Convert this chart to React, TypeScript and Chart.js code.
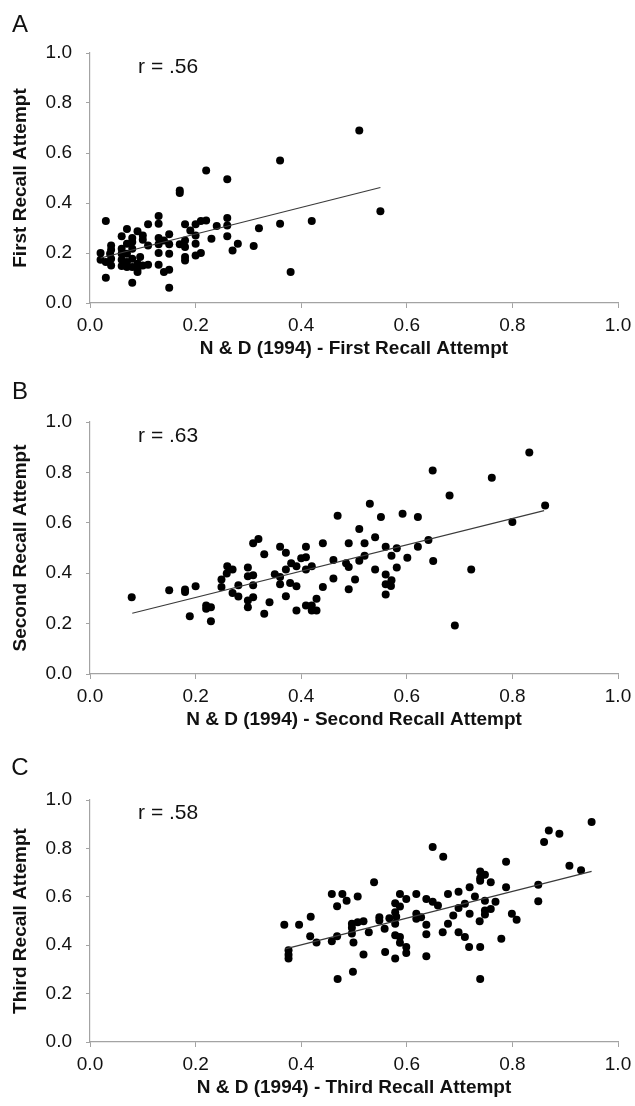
import React, { useEffect, useRef } from "react";
import { Chart, registerables } from "chart.js";

Chart.register(...registerables);

// ---------- Data ----------
const xA = [0.51,0.36,0.22,0.26,0.17,0.17,0.55,0.03,0.13,0.13,0.11,0.22,0.21,0.20,0.18,0.26,0.26,0.24,0.36,0.42,0.32,0.19,0.07,0.09,0.10,0.06,0.15,0.08,0.20,0.26,0.23,0.13,0.14,0.10,0.08,0.18,0.17,0.28,0.31,0.20,0.11,0.15,0.13,0.07,0.04,0.18,0.27,0.15,0.13,0.21,0.20,0.06,0.08,0.04,0.02,0.18,0.18,0.095,0.038,0.06,0.07,0.02,0.03,0.04,0.04,0.06,0.07,0.08,0.09,0.10,0.11,0.13,0.06,0.07,0.09,0.09,0.08,0.15,0.14,0.38,0.03,0.08,0.15];
const yA = [0.69,0.57,0.53,0.495,0.45,0.44,0.367,0.328,0.348,0.317,0.315,0.33,0.328,0.315,0.315,0.34,0.31,0.308,0.317,0.328,0.299,0.29,0.296,0.287,0.27,0.267,0.275,0.26,0.27,0.267,0.257,0.26,0.25,0.253,0.244,0.25,0.235,0.237,0.228,0.237,0.23,0.235,0.235,0.237,0.23,0.224,0.21,0.197,0.2,0.2,0.19,0.217,0.217,0.213,0.2,0.184,0.17,0.184,0.197,0.197,0.197,0.173,0.164,0.177,0.15,0.173,0.164,0.177,0.157,0.15,0.153,0.153,0.148,0.144,0.137,0.124,0.144,0.133,0.124,0.124,0.101,0.081,0.061];

const xB = [0.832,0.649,0.761,0.681,0.862,0.53,0.469,0.551,0.592,0.621,0.80,0.51,0.54,0.641,0.309,0.319,0.36,0.409,0.441,0.49,0.52,0.56,0.581,0.621,0.371,0.33,0.571,0.52,0.601,0.65,0.461,0.40,0.409,0.381,0.391,0.42,0.409,0.51,0.485,0.49,0.54,0.56,0.581,0.722,0.26,0.27,0.259,0.249,0.249,0.299,0.309,0.35,0.36,0.371,0.309,0.36,0.379,0.391,0.281,0.299,0.441,0.461,0.502,0.56,0.571,0.57,0.49,0.56,0.27,0.281,0.309,0.299,0.299,0.34,0.371,0.429,0.42,0.409,0.42,0.429,0.391,0.33,0.22,0.229,0.22,0.189,0.229,0.079,0.15,0.18,0.18,0.20,0.691];
const yB = [0.879,0.808,0.779,0.708,0.669,0.676,0.628,0.623,0.636,0.623,0.603,0.575,0.543,0.532,0.519,0.536,0.505,0.505,0.519,0.519,0.519,0.505,0.499,0.505,0.481,0.475,0.469,0.469,0.461,0.448,0.452,0.459,0.463,0.439,0.428,0.428,0.415,0.449,0.439,0.425,0.415,0.395,0.423,0.415,0.428,0.415,0.399,0.375,0.345,0.423,0.392,0.396,0.385,0.415,0.352,0.356,0.361,0.348,0.352,0.388,0.345,0.379,0.375,0.356,0.372,0.349,0.336,0.315,0.321,0.308,0.305,0.292,0.265,0.285,0.309,0.299,0.272,0.272,0.252,0.252,0.252,0.239,0.272,0.265,0.259,0.229,0.209,0.305,0.332,0.335,0.325,0.348,0.192];

const xC = [0.950,0.869,0.889,0.860,0.649,0.669,0.788,0.908,0.930,0.739,0.748,0.739,0.739,0.759,0.849,0.538,0.788,0.719,0.698,0.678,0.458,0.478,0.507,0.587,0.618,0.729,0.748,0.768,0.849,0.486,0.599,0.637,0.649,0.659,0.468,0.578,0.587,0.710,0.698,0.759,0.748,0.748,0.719,0.688,0.578,0.618,0.418,0.799,0.808,0.548,0.548,0.567,0.580,0.618,0.627,0.678,0.738,0.507,0.518,0.496,0.496,0.368,0.396,0.637,0.668,0.698,0.417,0.468,0.558,0.528,0.578,0.578,0.637,0.710,0.496,0.429,0.458,0.499,0.587,0.587,0.599,0.599,0.718,0.739,0.779,0.376,0.376,0.376,0.518,0.559,0.578,0.637,0.469,0.498,0.739];
const yC = [0.909,0.874,0.861,0.826,0.806,0.766,0.745,0.728,0.710,0.705,0.691,0.677,0.666,0.660,0.650,0.660,0.639,0.639,0.621,0.612,0.612,0.612,0.601,0.612,0.612,0.601,0.584,0.580,0.582,0.584,0.591,0.591,0.580,0.564,0.561,0.573,0.560,0.571,0.554,0.550,0.543,0.527,0.530,0.523,0.536,0.530,0.518,0.530,0.505,0.516,0.502,0.511,0.518,0.509,0.516,0.489,0.499,0.495,0.499,0.489,0.472,0.484,0.484,0.484,0.454,0.454,0.437,0.437,0.468,0.454,0.489,0.441,0.445,0.434,0.448,0.411,0.416,0.411,0.434,0.410,0.393,0.368,0.393,0.393,0.427,0.379,0.361,0.345,0.362,0.372,0.345,0.354,0.260,0.290,0.260];

// trend line end points (x, y)
const trendAx = [0.02, 0.55];
const trendAy = [0.18, 0.462];
const trendBx = [0.08, 0.86];
const trendBy = [0.241, 0.648];
const trendCx = [0.37, 0.95];
const trendCy = [0.385, 0.705];

const panelLetters = ["A", "B", "C"];
const rLabels = ["r = .56", "r = .63", "r = .58"];
const xTitles = [
  "N & D (1994) - First Recall Attempt",
  "N & D (1994) - Second Recall Attempt",
  "N & D (1994) - Third Recall Attempt",
];
const yTitles = ["First Recall Attempt", "Second Recall Attempt", "Third Recall Attempt"];
const tickValues = [0, 0.2, 0.4, 0.6, 0.8, 1.0];

const FONT = '"Liberation Sans", Arial, Helvetica, sans-serif';
const AXIS_COLOR = "#a3a3a3";

type PanelProps = {
  idx: number;
  xs: number[];
  ys: number[];
  tx: number[];
  ty: number[];
  top: number;
  height: number;
  areaTop: number;
  areaBottom: number;
  letterY: number;
};

const textPlugin = {
  id: "panelText",
  afterDraw(chart: any, _args: any, opts: any) {
    const { ctx, scales } = chart;
    ctx.save();
    ctx.fillStyle = "#111";
    ctx.textBaseline = "middle";
    ctx.textAlign = "center";
    ctx.font = `24px ${FONT}`;
    ctx.fillText(opts.letter, opts.letterX, opts.letterY);
    ctx.textAlign = "left";
    ctx.font = `21px ${FONT}`;
    ctx.fillText(opts.r, scales.x.getPixelForValue(opts.rx), scales.y.getPixelForValue(opts.ry));
    ctx.restore();
  },
};

function Panel(p: PanelProps) {
  const ref = useRef<HTMLCanvasElement | null>(null);
  useEffect(() => {
    if (!ref.current) return;
    const xAxisH = p.height - p.areaBottom;
    const titleOffset = 46; // axis -> x-title centre
    const titlePadBottom = Math.max(0, p.height - (p.areaBottom + titleOffset) - 11.4);
    const chart = new Chart(ref.current, {
      type: "scatter",
      data: {
        datasets: [
          {
            type: "scatter",
            data: p.tx.map((x, i) => ({ x, y: p.ty[i] })),
            showLine: true,
            borderColor: "#3a3a3a",
            borderWidth: 1.2,
            pointRadius: 0,
            fill: false,
          } as any,
          {
            type: "scatter",
            data: p.xs.map((x, i) => ({ x, y: p.ys[i] })),
            backgroundColor: "#000",
            borderWidth: 0,
            pointRadius: 4,
          },
        ],
      },
      options: {
        animation: false,
        responsive: false,
        events: [],
        layout: { padding: { left: 0, right: 17, top: p.areaTop, bottom: 0 } },
        plugins: {
          legend: { display: false },
          tooltip: { enabled: false },
          panelText: {
            letter: panelLetters[p.idx],
            letterX: 20,
            letterY: p.letterY,
            r: rLabels[p.idx],
            rx: 0.091,
            ry: 0.945,
          },
        } as any,
        scales: {
          x: {
            type: "linear",
            min: 0,
            max: 1,
            afterBuildTicks: (s: any) => {
              s.ticks = tickValues.map((v) => ({ value: v }));
            },
            afterFit: (s: any) => {
              s.height = xAxisH;
              s.paddingLeft = 0;
              s.paddingRight = 0;
            },
            ticks: {
              callback: (v: any) => Number(v).toFixed(1),
              font: { family: FONT, size: 19 },
              color: "#111",
              padding: 6,
              maxRotation: 0,
            },
            grid: { drawOnChartArea: false, drawTicks: true, tickLength: 5, color: AXIS_COLOR },
            border: { color: AXIS_COLOR, width: 1.2 },
            title: {
              display: true,
              text: xTitles[p.idx],
              font: { family: FONT, size: 19, weight: "bold" },
              color: "#111",
              padding: { top: 0, bottom: titlePadBottom },
            },
          },
          y: {
            type: "linear",
            min: 0,
            max: 1,
            afterBuildTicks: (s: any) => {
              s.ticks = tickValues.map((v) => ({ value: v }));
            },
            afterFit: (s: any) => {
              s.width = 90;
              s.paddingTop = 0;
              s.paddingBottom = 0;
            },
            ticks: {
              callback: (v: any) => Number(v).toFixed(1),
              font: { family: FONT, size: 19 },
              color: "#111",
              padding: 14,
            },
            grid: { drawOnChartArea: false, drawTicks: true, tickLength: 4, color: AXIS_COLOR },
            border: { color: AXIS_COLOR, width: 1.2 },
            title: {
              display: true,
              text: yTitles[p.idx],
              font: { family: FONT, size: 19, weight: "bold" },
              color: "#111",
              padding: { top: 9, bottom: 0 },
            },
          },
        },
      },
      plugins: [textPlugin],
    });
    return () => chart.destroy();
  }, []);
  return (
    <canvas
      ref={ref}
      width={635}
      height={p.height}
      style={{ position: "absolute", left: 0, top: p.top, width: 635, height: p.height, display: "block" }}
    />
  );
}

export default function App() {
  return (
    <div style={{ position: "absolute", left: 0, top: 0, width: 635, height: 1106, background: "#fff" }}>
      <Panel idx={0} xs={xA} ys={yA} tx={trendAx} ty={trendAy} top={0} height={368} areaTop={53} areaBottom={303} letterY={25} />
      <Panel idx={1} xs={xB} ys={yB} tx={trendBx} ty={trendBy} top={368} height={370} areaTop={54} areaBottom={306} letterY={24} />
      <Panel idx={2} xs={xC} ys={yC} tx={trendCx} ty={trendCy} top={738} height={368} areaTop={62} areaBottom={304} letterY={30} />
    </div>
  );
}
